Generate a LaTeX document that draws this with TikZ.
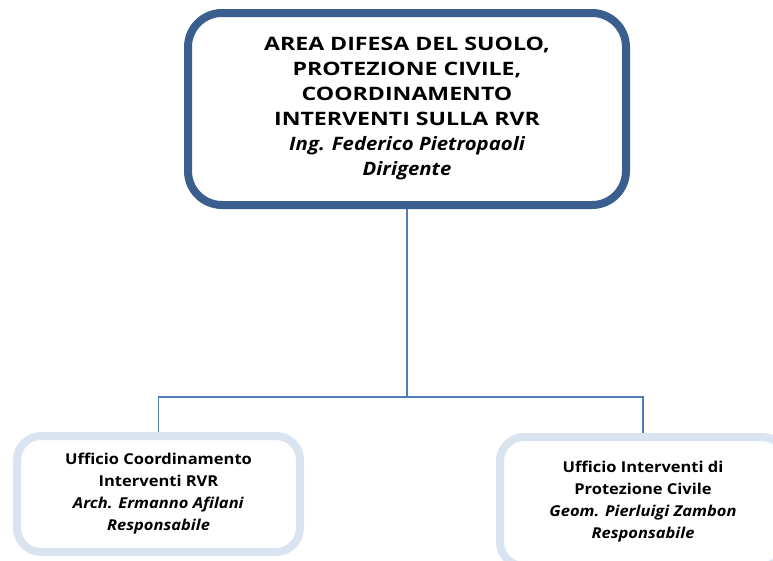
\documentclass[tikz,border=0pt]{standalone}
\usepackage{fontspec}
\setmainfont{Open Sans}
\newfontfamily\capsfont{Open Sans}[FakeStretch=1.25]
\newfontfamily\mixfont{Open Sans}[FakeStretch=1.1]
\usepackage{tikz}
\usetikzlibrary{positioning}
\definecolor{areablue}{HTML}{3A5F8F}
\definecolor{officeblue}{HTML}{DAE4F1}
\definecolor{linkblue}{HTML}{4F7DB8}
\tikzset{areabox/.style={rectangle,rounded corners=34pt,draw=areablue,line width=8pt,
fill=white,align=center,minimum width=438pt,minimum height=192pt,
font=\fontsize{18.5}{25}\selectfont\bfseries}}
\tikzset{officebox/.style={rectangle,rounded corners=24pt,draw=officeblue,line width=8pt,
fill=white,align=center,font=\mixfont\fontsize{15}{22}\selectfont\bfseries}}
\tikzset{link/.style={draw=linkblue,line width=1.6pt}}

\begin{document}
\begin{tikzpicture}[x=1pt,y=-1pt]
    \useasboundingbox (0,0) rectangle (773,560);
    \clip (0,0) rectangle (773,560);

    \node[areabox] (area) at (407,109) {{\capsfont AREA DIFESA DEL SUOLO,}\\{\capsfont PROTEZIONE CIVILE,}\\{\capsfont COORDINAMENTO}\\{\capsfont INTERVENTI SULLA RVR}\\{\mixfont\itshape Ing. Federico Pietropaoli}\\{\mixfont\itshape Dirigente}};

    \node[officebox,minimum width=283pt,minimum height=116pt] (rvr) at (158.5,494) {Ufficio Coordinamento\\Interventi RVR\\\textit{Arch. Ermanno Afilani}\\\textit{Responsabile}};
    \node[officebox,minimum width=286pt,minimum height=129pt] (civile) at (643,501.5) {Ufficio Interventi di\\Protezione Civile\\\textit{Geom. Pierluigi Zambon}\\\textit{Responsabile}};

    \coordinate (split) at (407,397);

    \draw[link] (area.south) -- (split);
    \draw[link] (rvr.north) |- (split) -| (civile.north);

\end{tikzpicture}
\end{document}
